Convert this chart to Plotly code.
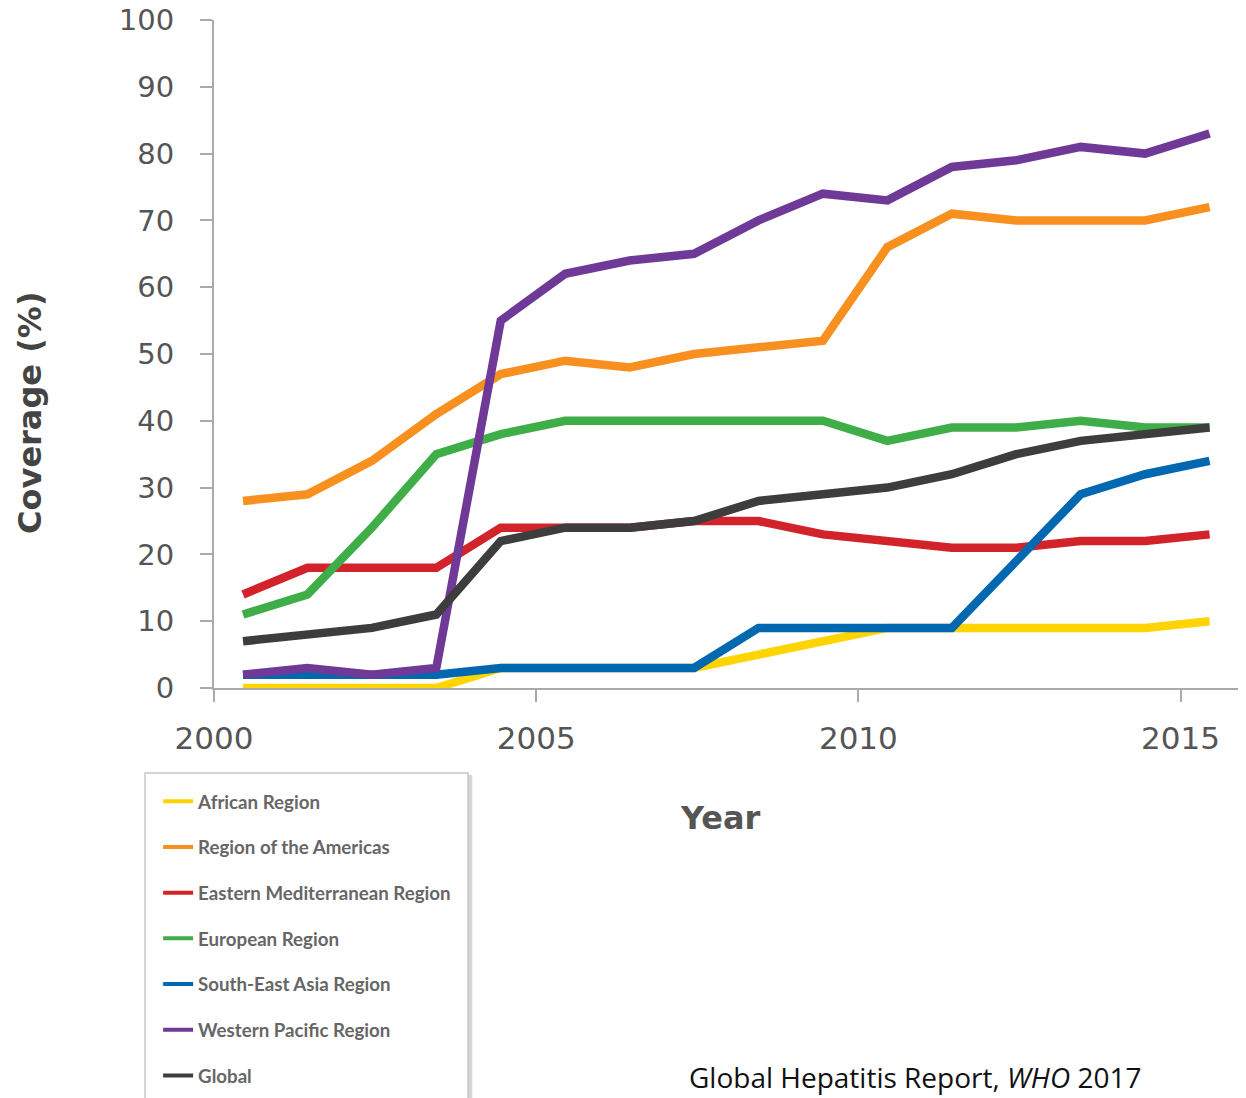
import plotly.graph_objects as go

# Hepatitis B birth-dose vaccine coverage by WHO region, 2000-2015
YEARS = list(range(2000, 2016))

african = [0, 0, 0, 0, 3, 3, 3, 3, 5, 7, 9, 9, 9, 9, 9, 10]
americas = [28, 29, 34, 41, 47, 49, 48, 50, 51, 52, 66, 71, 70, 70, 70, 72]
east_med = [14, 18, 18, 18, 24, 24, 24, 25, 25, 23, 22, 21, 21, 22, 22, 23]
european = [11, 14, 24, 35, 38, 40, 40, 40, 40, 40, 37, 39, 39, 40, 39, 39]
se_asia = [2, 2, 2, 2, 3, 3, 3, 3, 9, 9, 9, 9, 19, 29, 32, 34]
west_pac = [2, 3, 2, 3, 55, 62, 64, 65, 70, 74, 73, 78, 79, 81, 80, 83]
global_cov = [7, 8, 9, 11, 22, 24, 24, 25, 28, 29, 30, 32, 35, 37, 38, 39]

SERIES_NAMES = ["African Region", "Region of the Americas",
                "Eastern Mediterranean Region", "European Region",
                "South-East Asia Region", "Western Pacific Region", "Global"]
SERIES_VALUES = [african, americas, east_med, european, se_asia, west_pac, global_cov]
COLORS = ["#FFD400", "#F7901E", "#D2232A", "#3FAE49", "#0067B1", "#6F3A97", "#3D3D3D"]

X_TICKS = [2000, 2005, 2010, 2015]
Y_TICKS = list(range(0, 101, 10))

# values are plotted at mid-year
MID_YEAR = 0.45
x_vals = [y + MID_YEAR for y in YEARS]

fig = go.Figure()
for name, vals, color in zip(SERIES_NAMES, SERIES_VALUES, COLORS):
    fig.add_trace(go.Scatter(
        x=x_vals, y=vals, mode="lines", showlegend=False,
        line=dict(color=color, width=8.5), hoverinfo="skip", name=name
    ))
# legend-only entries with thinner symbols
for i, (name, color) in enumerate(zip(SERIES_NAMES, COLORS)):
    fig.add_trace(go.Scatter(
        x=[None], y=[None], mode="lines", name=name, legendgroup=str(i),
        line=dict(color=color, width=4)
    ))

# page body adds an 8px margin, so the figure is 8px smaller than the window
fig.update_layout(
    width=1238, height=1090,
    margin=dict(l=206, r=1, t=12, b=410),
    plot_bgcolor="white", paper_bgcolor="white",
    xaxis=dict(
        range=[2000, 2016], tickvals=X_TICKS, ticktext=[str(t) for t in X_TICKS],
        showgrid=False, zeroline=False, showline=True, linecolor="#AAAAAA", linewidth=2,
        ticks="outside", ticklen=12, tickcolor="#AAAAAA", tickwidth=2,
        ticklabelstandoff=10, automargin=False, ticklabeloverflow="allow",
        tickfont=dict(family="DejaVu Sans", size=31, color="#555555")
    ),
    yaxis=dict(
        range=[0, 100], tickvals=Y_TICKS, showgrid=False, zeroline=False,
        showline=True, linecolor="#AAAAAA", linewidth=2,
        ticks="outside", ticklen=12, tickcolor="#AAAAAA", tickwidth=2,
        ticklabelstandoff=20, automargin=False, ticklabeloverflow="allow",
        tickfont=dict(family="DejaVu Sans", size=29, color="#555555")
    ),
    legend=dict(
        x=-0.0542, y=-0.1416, xanchor="left", yanchor="top",
        bgcolor="rgba(0,0,0,0)", borderwidth=0,
        font=dict(family="Lato", size=18.7, color="#666666", weight="bold"),
        tracegroupgap=18.4
    ),
    shapes=[
        # legend box shadow and frame
        dict(type="rect", xref="paper", yref="paper", layer="below",
             x0=-0.0650, x1=0.2505, y0=-0.64, y1=-0.1300,
             fillcolor="#D6D6D6", line=dict(width=0)),
        dict(type="rect", xref="paper", yref="paper", layer="below",
             x0=-0.0669, x1=0.2464, y0=-0.64, y1=-0.1272,
             fillcolor="white", line=dict(color="#C8C8C8", width=1.5)),
    ],
    annotations=[
        dict(text="Coverage (%)", xref="paper", yref="paper", x=-0.1785, y=0.4117,
             xanchor="center", yanchor="middle", textangle=-90, showarrow=False,
             font=dict(family="DejaVu Sans", size=32, color="#444444", weight="bold")),
        dict(text="Year", xref="paper", yref="paper", x=0.491, y=-0.1946,
             xanchor="center", yanchor="middle", showarrow=False,
             font=dict(family="DejaVu Sans", size=32, color="#555555", weight="bold")),
        dict(text="Global Hepatitis Report, <i>WHO</i> 2017", xref="paper", yref="paper",
             x=0.4588, y=-0.6138, xanchor="left", yanchor="bottom", showarrow=False,
             font=dict(family="Open Sans", size=28, color="#111111")),
    ],
)

fig.write_html("out.html")
